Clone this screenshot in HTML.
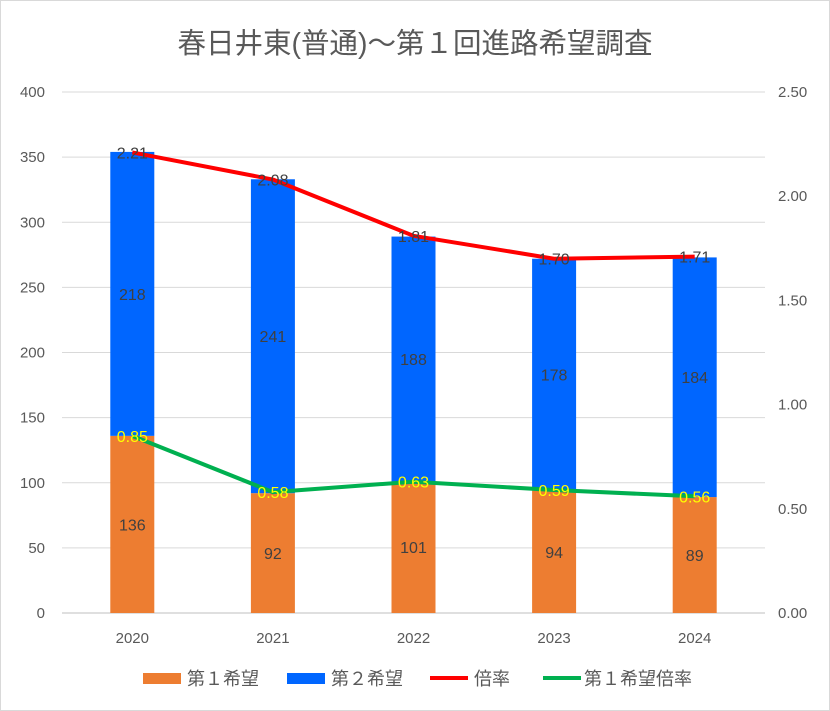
<!DOCTYPE html>
<html><head><meta charset="utf-8"><style>
body{margin:0;background:#fff}
svg{display:block;font-family:"Liberation Sans","Noto Sans CJK JP",sans-serif}
</style></head><body>
<svg id="c" width="830" height="711" viewBox="0 0 830 711">
<rect x="0.5" y="0.5" width="829" height="710" fill="#fff" stroke="#d9d9d9"/>
<text x="415" y="53" text-anchor="middle" font-size="28.5" fill="#595959">春日井東(普通)～第１回進路希望調査</text>
<g id="grid"></g><g id="bars"></g><g id="lines"></g><g id="labels"></g>
<g font-size="18" fill="#595959">
<rect x="143" y="673" width="38" height="11" fill="#ED7D31"/>
<text x="187" y="685">第１希望</text>
<rect x="287" y="673" width="38" height="11" fill="#0066FF"/>
<text x="331" y="685">第２希望</text>
<line x1="430" y1="678" x2="468" y2="678" stroke="#FF0000" stroke-width="4"/>
<text x="474" y="685">倍率</text>
<line x1="543" y1="678" x2="581" y2="678" stroke="#00B050" stroke-width="4"/>
<text x="584" y="685">第１希望倍率</text>
</g>
</svg>
<script>
const categories=["2020","2021","2022","2023","2024"];
const first=[136,92,101,94,89];
const second=[218,241,188,178,184];
const ratio=[2.21,2.08,1.81,1.70,1.71];
const firstRatio=[0.85,0.58,0.63,0.59,0.56];
const leftTicks=[0,50,100,150,200,250,300,350,400];
const rightTicks=["0.00","0.50","1.00","1.50","2.00","2.50"];
const NS="http://www.w3.org/2000/svg";
const L=62,R=765,T=92,B=613;
const yL=v=>B-(v/400)*(B-T);
const yR=v=>B-(v/2.5)*(B-T);
const xC=i=>L+(R-L)/categories.length*(i+0.5);
function mk(p,tag,a,txt){const e=document.createElementNS(NS,tag);for(const k in a)e.setAttribute(k,a[k]);if(txt!==undefined)e.textContent=txt;document.getElementById(p).appendChild(e);return e;}
leftTicks.forEach(v=>{
 const g=mk('grid','line',{x1:L,x2:R,y1:yL(v),y2:yL(v),stroke:v===0?'#bfbfbf':'#d9d9d9','stroke-width':1});
 
 
 const t=mk('grid','text',{x:45,y:yL(v)+5,'text-anchor':'end','font-size':15,fill:'#595959'},v);
 
 
});
rightTicks.forEach(v=>{
 const t=mk('grid','text',{x:778,y:yR(+v)+5,'font-size':15,fill:'#595959'},v);
 
 
});
const bw=44;
categories.forEach((c,i)=>{
 const x=xC(i);
 const t=mk('grid','text',{x:x,y:643,'text-anchor':'middle','font-size':15,fill:'#595959'},c);
 
 
 const b1=mk('bars','rect',{x:x-bw/2,y:yL(first[i]),width:bw,height:yL(0)-yL(first[i]),fill:'#ED7D31'});
 
 
 const top=first[i]+second[i];
 const b2=mk('bars','rect',{x:x-bw/2,y:yL(top),width:bw,height:yL(first[i])-yL(top),fill:'#0066FF'});
 
 
 const l1=mk('labels','text',{x:x,y:(yL(first[i])+yL(0))/2+6,'text-anchor':'middle','font-size':16,fill:'#404040'},first[i]);
 
 
 const l2=mk('labels','text',{x:x,y:(yL(top)+yL(first[i]))/2+6,'text-anchor':'middle','font-size':16,fill:'#404040'},second[i]);
 
 
 const l3=mk('labels','text',{x:x,y:yR(ratio[i])+6,'text-anchor':'middle','font-size':16,fill:'#404040'},ratio[i].toFixed(2));
 
 
 const l4=mk('labels','text',{x:x,y:yR(firstRatio[i])+6,'text-anchor':'middle','font-size':16,fill:'#FFFF00'},firstRatio[i].toFixed(2));
 
 
});
const p1=mk('lines','polyline',{points:ratio.map((v,i)=>xC(i)+','+yR(v)).join(' '),fill:'none',stroke:'#FF0000','stroke-width':4,'stroke-linejoin':'round'});


const p2=mk('lines','polyline',{points:firstRatio.map((v,i)=>xC(i)+','+yR(v)).join(' '),fill:'none',stroke:'#00B050','stroke-width':4,'stroke-linejoin':'round'});


</script>
</body></html>
